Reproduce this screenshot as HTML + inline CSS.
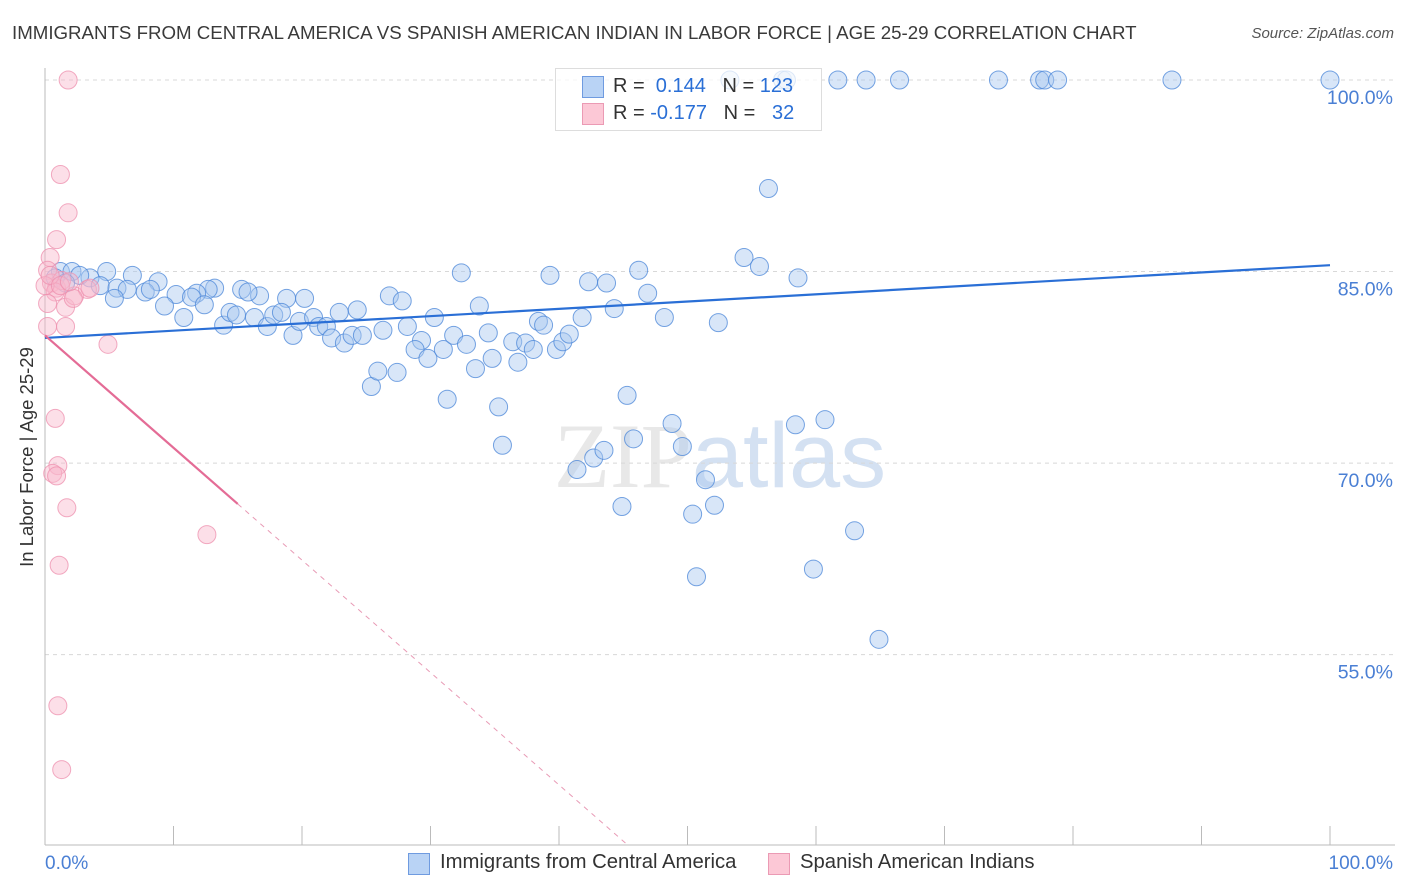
<!DOCTYPE html>
<html><head><meta charset="utf-8"><style>
body{margin:0;background:#fff;font-family:"Liberation Sans",sans-serif}
#wrap{position:relative;width:1406px;height:892px;overflow:hidden}
.t{position:absolute;white-space:nowrap}
</style></head><body>
<div id="wrap">
<div class="t" style="left:12px;top:22px;font-size:18.7px;color:#3a3a3a">IMMIGRANTS FROM CENTRAL AMERICA VS SPANISH AMERICAN INDIAN IN LABOR FORCE | AGE 25-29 CORRELATION CHART</div>
<div class="t" style="right:12px;top:25px;font-size:15px;color:#555;font-style:italic">Source: ZipAtlas.com</div>
<svg id="svg" width="1406" height="892" style="position:absolute;left:0;top:0"></svg>
<div class="t" style="left:27px;top:457px;transform:translate(-50%,-50%) rotate(-90deg);font-size:18.5px;color:#333">In Labor Force | Age 25-29</div>
<div class="t" style="left:45px;top:853px;font-size:19px;color:#4a7fd4">0.0%</div>
<div class="t" style="right:13px;top:853px;font-size:19px;color:#4a7fd4">100.0%</div>
<div style="position:absolute;left:555px;top:68px;width:265px;height:61px;border:1px solid #ddd;background:rgba(255,255,255,0.75);font-size:20px">
 <div style="position:absolute;left:26px;top:7px;width:20px;height:20px;background:#b9d3f5;border:1px solid #6f9be0"></div>
 <div class="t" style="left:57px;top:6px;color:#333">R = <span style="color:#2a6fd6">&nbsp;0.144</span>&nbsp;&nbsp; N = <span style="color:#2a6fd6">123</span></div>
 <div style="position:absolute;left:26px;top:34px;width:20px;height:20px;background:#fcc8d6;border:1px solid #eb9ab4"></div>
 <div class="t" style="left:57px;top:33px;color:#333">R = <span style="color:#2a6fd6">-0.177</span>&nbsp;&nbsp; N = <span style="color:#2a6fd6">&nbsp;&nbsp;32</span></div>
</div>
<div>
 <div style="position:absolute;left:408px;top:853px;width:20px;height:20px;background:#b9d3f5;border:1px solid #6f9be0"></div>
 <div class="t" style="left:440px;top:851px;font-size:20.3px;color:#333">Immigrants from Central America</div>
 <div style="position:absolute;left:768px;top:853px;width:20px;height:20px;background:#fcc8d6;border:1px solid #eb9ab4"></div>
 <div class="t" style="left:800px;top:851px;font-size:20.3px;color:#333">Spanish American Indians</div>
</div>
</div>
<script>
const blueX=[53.3,57.4,57.7,61.7,63.9,66.5,74.2,77.4,77.8,78.8,87.7,100,56.3,54.4,55.6,58.6,46.2,42.3,43.7,39.3,32.4,46.9,44.3,48.2,52.4,33.8,30.3,26.8,27.8,24.3,22.9,20.2,18.8,16.7,15.3,15.8,13.2,12.7,11.8,10.2,8.8,6.8,4.8,3.5,1.2,2.1,2.7,0.8,1.6,4.3,5.6,6.4,7.8,8.2,5.4,9.3,10.8,11.4,12.4,13.9,14.4,14.9,16.3,17.3,17.8,18.4,19.3,19.8,20.9,21.3,21.9,22.3,23.3,23.9,24.7,26.3,28.2,29.3,28.8,29.8,31.0,31.8,32.8,34.5,34.8,36.4,36.8,37.4,38.0,38.4,38.8,39.8,40.3,40.8,41.8,33.5,25.4,25.9,27.4,31.3,35.3,35.6,41.4,42.7,43.5,45.3,45.8,48.8,49.6,51.4,50.4,52.1,44.9,50.7,58.4,60.7,63.0,59.8,64.9];
const blueY=[100,100,100,100,100,100,100,100,100,100,100,100,91.5,86.1,85.4,84.5,85.1,84.2,84.1,84.7,84.9,83.3,82.1,81.4,81.0,82.3,81.4,83.1,82.7,82.0,81.8,82.9,82.9,83.1,83.6,83.4,83.7,83.6,83.3,83.2,84.2,84.7,85.0,84.5,85.0,85.0,84.7,84.5,84.1,83.9,83.7,83.6,83.4,83.6,82.9,82.3,81.4,83.0,82.4,80.8,81.8,81.6,81.4,80.7,81.6,81.8,80.0,81.1,81.4,80.7,80.7,79.8,79.4,80.0,80.0,80.4,80.7,79.6,78.9,78.2,78.9,80.0,79.3,80.2,78.2,79.5,77.9,79.4,78.9,81.1,80.8,78.9,79.5,80.1,81.4,77.4,76.0,77.2,77.1,75.0,74.4,71.4,69.5,70.4,71.0,75.3,71.9,73.1,71.3,68.7,66.0,66.7,66.6,61.1,73.0,73.4,64.7,61.7,56.2];
const pinkX=[1.8,1.2,1.8,0.9,0.4,0.2,0.5,0.9,1.3,0.8,0.2,1.6,2.3,3.3,0.2,1.6,4.9,0.8,1.0,0.6,0.9,1.7,12.6,1.1,1.0,1.3,2.2,0,0.4,1.2,3.5,1.9];
const pinkY=[100,92.6,89.6,87.5,86.1,85.1,84.1,83.7,84.3,83.4,82.5,82.2,83.1,83.6,80.7,80.7,79.3,73.5,69.8,69.2,69.0,66.5,64.4,62.0,51.0,46.0,82.9,83.9,84.7,83.9,83.7,84.2];
const blueTrend=[79.8,85.5];
const pinkTrend=[80.0,-0.88];
const pinkSolidEnd=15;
const yTicks=[100,85,70,55];
const yTickLabels=["100.0%","85.0%","70.0%","55.0%"];
const xTicks=[0,10,20,30,40,50,60,70,80,90,100];

const X=v=>45+v*12.85, Y=v=>80+(100-v)*12.77;
const svg=document.getElementById('svg'), NS='http://www.w3.org/2000/svg';
function mk(tag,at,parent){const e=document.createElementNS(NS,tag);for(const k in at)e.setAttribute(k,at[k]);(parent||svg).appendChild(e);return e;}
let wm=mk('text',{x:720,y:487,'text-anchor':'middle','font-size':92,'font-family':'Liberation Serif, serif',fill:'#d8d8d8','fill-opacity':0.6});


wm.innerHTML='ZIP<tspan font-family="Liberation Sans, sans-serif" fill="#b8cdea">atlas</tspan>';
yTicks.forEach((v,i)=>{
 let g=mk('line',{x1:45,x2:1395,y1:Y(v),y2:Y(v),stroke:'#d8d8d8','stroke-dasharray':'4,4'});
 
 
 let t=mk('text',{x:1393,y:Y(v)+24,'text-anchor':'end','font-size':19.5,fill:'#4a7fd4','font-family':'Liberation Sans, sans-serif'});
 
 
 t.textContent=yTickLabels[i];
});
let ya=mk('line',{x1:45,x2:45,y1:68,y2:845,stroke:'#bbb'});


let xa=mk('line',{x1:45,x2:1395,y1:845,y2:845,stroke:'#bbb'});


xTicks.forEach(v=>{let t=mk('line',{x1:X(v),x2:X(v),y1:826,y2:845,stroke:'#bbb'});
 
 });
function pts(xs,ys,fill,stroke,name){xs.forEach((x,i)=>{let c=mk('circle',{cx:X(x),cy:Y(ys[i]),r:9,fill:fill,'fill-opacity':0.45,stroke:stroke,'stroke-opacity':0.75,'stroke-width':1});
 
 });}
pts(blueX,blueY,'#a9c8f0','#4a86d8','blue-point');
pts(pinkX,pinkY,'#f9b8cb','#ee8fae','pink-point');
let bl=mk('line',{x1:X(0),y1:Y(blueTrend[0]),x2:X(100),y2:Y(blueTrend[1]),stroke:'#2a6fd6','stroke-width':2.2});


const py=x=>pinkTrend[0]+pinkTrend[1]*x;
let pl=mk('line',{x1:X(0),y1:Y(py(0)),x2:X(pinkSolidEnd),y2:Y(py(pinkSolidEnd)),stroke:'#e46c96','stroke-width':2.2});


const xEnd=(40-pinkTrend[0])/pinkTrend[1];
let pd=mk('line',{x1:X(pinkSolidEnd),y1:Y(py(pinkSolidEnd)),x2:X(xEnd),y2:Y(40),stroke:'#e89ab5','stroke-width':1,'stroke-dasharray':'5,5'});


</script>
</body></html>
